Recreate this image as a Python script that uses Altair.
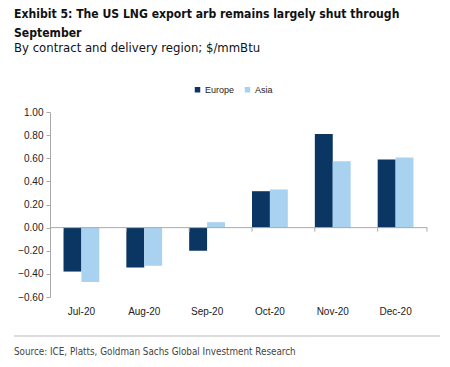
import altair as alt
import pandas as pd

months = ["Jul-20", "Aug-20", "Sep-20", "Oct-20", "Nov-20", "Dec-20"]
europe = [-0.38, -0.345, -0.20, 0.315, 0.81, 0.59]
asia = [-0.47, -0.33, 0.047, 0.33, 0.575, 0.607]
series = ["Europe", "Asia"]
colors = ["#0b3563", "#a9d2f0"]
y_ticks = [-0.6, -0.4, -0.2, 0.0, 0.2, 0.4, 0.6, 0.8, 1.0]

title1 = "Exhibit 5: The US LNG export arb remains largely shut through"
title2 = "September"
subtitle = "By contract and delivery region; $/mmBtu"
source = "Source: ICE, Platts, Goldman Sachs Global Investment Research"

rows = []
for m, e, a in zip(months, europe, asia):
    rows.append({"month": m, "region": "Europe", "value": e})
    rows.append({"month": m, "region": "Asia", "value": a})
df = pd.DataFrame(rows)

W, H = 377, 185
FONT = "DejaVu Sans Condensed, Liberation Sans, sans-serif"
AXFONT = "Liberation Sans, sans-serif"

xscale = alt.Scale(domain=months, paddingInner=0.43, paddingOuter=0.215)
yscale = alt.Scale(domain=[-0.6, 1.0], nice=False)

xaxis = alt.Axis(title=None, labelAngle=0, domain=False, ticks=False,
                 labelFont=AXFONT, labelFontSize=10, labelColor="#222",
                 labelPadding=9)
yaxis = alt.Axis(title=None, values=y_ticks, format=".2f", grid=False,
                 labelOverlap=False,
                 domainColor="#aaa", tickColor="#aaa", tickSize=4,
                 labelFont=AXFONT, labelFontSize=10, labelColor="#222",
                 labelPadding=3)

bars = alt.Chart(df).mark_bar().encode(
    x=alt.X("month:N", scale=xscale, sort=months, axis=xaxis),
    xOffset=alt.XOffset("region:N", sort=series, scale=alt.Scale(domain=series, paddingInner=0)),
    y=alt.Y("value:Q", scale=yscale, axis=yaxis),
    color=alt.Color("region:N", sort=series,
                    scale=alt.Scale(domain=series, range=colors),
                    legend=alt.Legend(title=None, orient="none", direction="horizontal",
                                      legendX=143, legendY=-27, symbolType="square",
                                      symbolSize=30, symbolStrokeWidth=0,
                                      labelFont=AXFONT, labelFontSize=9,
                                      labelColor="#222", columnPadding=8,
                                      labelOffset=3)),
)

zero = alt.Chart(pd.DataFrame({"v": [0.0]})).mark_rule(color="#aaa", strokeWidth=1).encode(
    y=alt.Y("v:Q", scale=yscale, axis=yaxis), x=alt.value(0), x2=alt.value(W)
)

bounds = pd.DataFrame({"month": months})
tick_marks = alt.Chart(bounds).mark_rule(color="#aaa").encode(
    x=alt.X("month:N", scale=xscale, sort=months, bandPosition=0, axis=xaxis),
    y=alt.value(H * 1.0 / 1.6), y2=alt.value(H * 1.0 / 1.6 + 4),
)
end_tick = alt.Chart(pd.DataFrame({"v": [0]})).mark_rule(color="#aaa").encode(
    x=alt.value(W), y=alt.value(H * 1.0 / 1.6), y2=alt.value(H * 1.0 / 1.6 + 4)
)

def txt(s, x, y, size, bold=False, color="#111"):
    return alt.Chart(pd.DataFrame({"t": [s]})).mark_text(
        align="left", baseline="alphabetic", font=FONT, fontSize=size,
        fontWeight="bold" if bold else "normal", color=color
    ).encode(text="t:N", x=alt.value(x), y=alt.value(y))

t1 = txt(title1, -36, -94, 12.1, True)
t2 = txt(title2, -36, -75, 12.1, True)
st = txt(subtitle, -36, -60, 13)
src = txt(source, -36, 243, 9.8, color="#444")
sep = alt.Chart(pd.DataFrame({"v": [0]})).mark_rule(color="#bbb", strokeWidth=1).encode(
    x=alt.value(-36), x2=alt.value(390), y=alt.value(224)
)

chart = alt.layer(bars, zero, tick_marks, end_tick, t1, t2, st, src, sep).properties(
    width=W, height=H,
    autosize=alt.AutoSizeParams(type="none"),
    padding={"left": 42, "top": 104, "right": 15, "bottom": 62},
).configure(background="white", view=alt.ViewConfig(stroke=None))

chart.save("out.html", embed_options={"renderer": "svg", "actions": False})
